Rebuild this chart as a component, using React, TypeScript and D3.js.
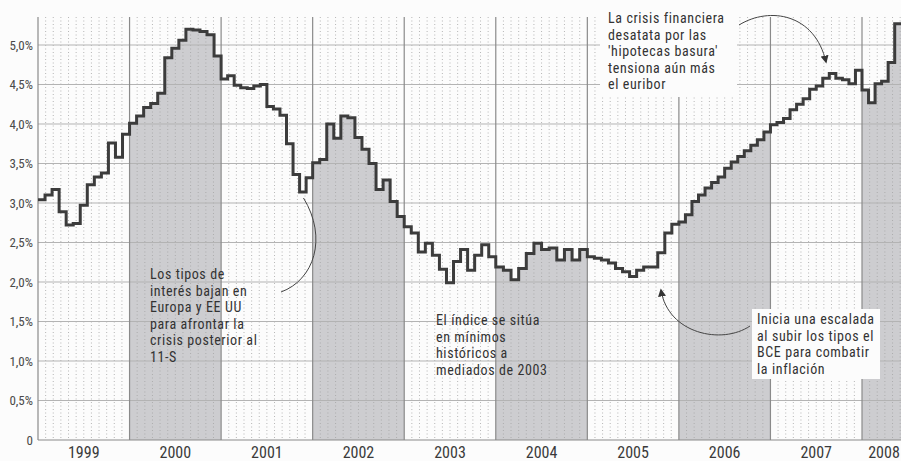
import * as d3 from "d3";
import { useEffect, useRef } from "react";

// 12-month euribor (steps per year as drawn)
const years = [1999, 2000, 2001, 2002, 2003, 2004, 2005, 2006, 2007, 2008];
const rates1999 = [3.04, 3.1, 3.17, 2.89, 2.72, 2.74, 2.97, 3.23, 3.33, 3.38, 3.76, 3.58, 3.87];
const rates2000 = [4.01, 4.1, 4.21, 4.26, 4.39, 4.84, 4.96, 5.06, 5.2, 5.19, 5.17, 5.13, 4.86];
const rates2001 = [4.57, 4.61, 4.49, 4.46, 4.45, 4.48, 4.5, 4.22, 4.19, 4.11, 3.75, 3.36, 3.14, 3.32];
const rates2002 = [3.51, 3.55, 4.0, 3.82, 4.1, 4.08, 3.83, 3.68, 3.5, 3.17, 3.29, 3.02, 2.83];
const rates2003 = [2.7, 2.62, 2.38, 2.49, 2.34, 2.16, 1.99, 2.26, 2.41, 2.15, 2.34, 2.47, 2.32];
const rates2004 = [2.19, 2.15, 2.03, 2.17, 2.36, 2.49, 2.41, 2.43, 2.28, 2.41, 2.28, 2.41];
const rates2005 = [2.32, 2.3, 2.28, 2.24, 2.17, 2.13, 2.07, 2.15, 2.19, 2.19, 2.37, 2.62, 2.73];
const rates2006 = [2.76, 2.85, 3.02, 3.1, 3.19, 3.26, 3.33, 3.44, 3.52, 3.59, 3.66, 3.73, 3.8, 3.9];
const rates2007 = [3.99, 4.02, 4.07, 4.18, 4.25, 4.32, 4.44, 4.48, 4.58, 4.64, 4.58, 4.56, 4.51, 4.68];
const rates2008 = [4.43, 4.27, 4.51, 4.54, 4.78, 5.27];
const ratesByYear = [rates1999, rates2000, rates2001, rates2002, rates2003, rates2004, rates2005, rates2006, rates2007, rates2008];
const steps2008 = 14; // only the start of 2008 is on the page

const yTicks = [0, 0.5, 1, 1.5, 2, 2.5, 3, 3.5, 4, 4.5, 5];
const shadedYears = [2000, 2002, 2004, 2006, 2008];

const notes = [
  { lines: ["Los tipos de", "interés bajan en", "Europa y EE UU", "para afrontar la", "crisis posterior al", "11-S"], x: 150, y: 279, box: null },
  { lines: ["El índice se sitúa", "en mínimos", "históricos a", "mediados de 2003"], x: 436, y: 325, box: null },
  { lines: ["La crisis financiera", "desatata por las", "'hipotecas basura'", "tensiona aún más", "el euribor"], x: 608, y: 23, box: [600, 0, 137, 97] },
  { lines: ["Inicia una escalada", "al subir los tipos el", "BCE para combatir", "la inflación"], x: 757, y: 324, box: [752, 309, 128, 70] },
];

const W = 901;
const H = 461;
const FONT = "'Liberation Sans Narrow', 'Roboto Condensed', 'Arial Narrow', Roboto, sans-serif";

export default function App() {
  const ref = useRef<SVGSVGElement>(null);

  useEffect(() => {
    const svg = d3.select(ref.current);
    svg.selectAll("*").remove();

    const x = d3.scaleLinear().domain([1999, 2008]).range([38, 862]);
    const y = d3.scaleLinear().domain([0, 5]).range([440, 45]);
    const top = 17;

    const points: { t: number; v: number }[] = [];
    years.forEach((yr, i) => {
      const arr = ratesByYear[i];
      const n = yr === 2008 ? steps2008 : arr.length;
      arr.forEach((v, j) => points.push({ t: yr + j / n, v }));
    });
    const last = points[points.length - 1];
    points.push({ t: last.t + 1 / steps2008, v: last.v });

    const defs = svg.append("defs");
    defs
      .append("marker")
      .attr("id", "arrow")
      .attr("viewBox", "0 0 10 10")
      .attr("refX", 8)
      .attr("refY", 5)
      .attr("markerWidth", 8)
      .attr("markerHeight", 8)
      .attr("markerUnits", "userSpaceOnUse")
      .attr("orient", "auto")
      .append("path")
      .attr("d", "M0,0L10,5L0,10z")
      .attr("fill", "#333");

    const clip = defs.append("clipPath").attr("id", "even");
    shadedYears.forEach((yr) =>
      clip
        .append("rect")
        .attr("x", x(yr))
        .attr("y", 0)
        .attr("width", x(yr + 1) - x(yr))
        .attr("height", H)
    );

    svg.append("rect").attr("width", W).attr("height", H).attr("fill", "#fcfcfc");

    // grey band under the curve in even years
    const area = d3
      .area<{ t: number; v: number }>()
      .x((d) => x(d.t))
      .y0(y(0))
      .y1((d) => y(d.v))
      .curve(d3.curveStepAfter);
    svg
      .append("path")
      .datum(points)
      .attr("d", area)
      .attr("fill", "#cdcdd0")
      .attr("clip-path", "url(#even)");

    // monthly dotted grid
    const months = d3.range(0, 9 * 12 + 6).map((m) => 1999 + m / 12).filter((t) => !Number.isInteger(t) && x(t) < W);
    svg
      .append("g")
      .selectAll("line")
      .data(months)
      .join("line")
      .attr("x1", (d) => x(d))
      .attr("x2", (d) => x(d))
      .attr("y1", top)
      .attr("y2", y(0))
      .attr("stroke", "#a5a5a5")
      .attr("stroke-width", 0.8)
      .attr("stroke-dasharray", "1,2.5");

    svg
      .append("g")
      .selectAll("line")
      .data(yTicks.slice(1))
      .join("line")
      .attr("x1", x(1999))
      .attr("x2", W)
      .attr("y1", (d) => y(d))
      .attr("y2", (d) => y(d))
      .attr("stroke", "#b3b3b3")
      .attr("stroke-width", 1);

    svg
      .append("g")
      .selectAll("line")
      .data(years)
      .join("line")
      .attr("x1", (d) => x(d))
      .attr("x2", (d) => x(d))
      .attr("y1", top)
      .attr("y2", y(0))
      .attr("stroke", "#8a8a8a")
      .attr("stroke-width", 1.2);

    svg
      .append("line")
      .attr("x1", x(1999))
      .attr("x2", W)
      .attr("y1", y(0))
      .attr("y2", y(0))
      .attr("stroke", "#8a8a8a");

    // euribor line
    const line = d3
      .line<{ t: number; v: number }>()
      .x((d) => x(d.t))
      .y((d) => y(d.v))
      .curve(d3.curveStepAfter);
    svg
      .append("path")
      .datum(points)
      .attr("d", line)
      .attr("fill", "none")
      .attr("stroke", "#3c3c3c")
      .attr("stroke-width", 3)
      .attr("stroke-linejoin", "miter");

    // y labels
    const fmt = d3.formatLocale({ decimal: ",", thousands: ".", grouping: [3], currency: ["", "€"] }).format(".1f");
    svg
      .append("g")
      .attr("font-family", FONT)
      .attr("font-size", 13)
      .attr("fill", "#4a4a4a")
      .attr("text-anchor", "end")
      .selectAll("text")
      .data(yTicks)
      .join("text")
      .attr("x", 33)
      .attr("y", (d) => y(d))
      .attr("dy", "0.35em")
      .text((d) => (d === 0 ? "0" : fmt(d) + "%"));

    // year labels
    svg
      .append("g")
      .attr("font-family", FONT)
      .attr("font-size", 16)
      .attr("fill", "#3a3a3a")
      .attr("text-anchor", "middle")
      .selectAll("text")
      .data(years)
      .join("text")
      .attr("x", (d) => Math.min(x(d + 0.5), W - 17))
      .attr("y", 458)
      .text((d) => d);

    // annotations
    const g = svg
      .append("g")
      .attr("font-family", FONT)
      .attr("font-size", 14)
      .attr("letter-spacing", 0.6)
      .attr("fill", "#333");
    notes.forEach((n) => {
      if (n.box) {
        g.append("rect")
          .attr("x", n.box[0])
          .attr("y", n.box[1])
          .attr("width", n.box[2])
          .attr("height", n.box[3])
          .attr("fill", "#fcfcfc");
      }
      const t = g.append("text").attr("x", n.x).attr("y", n.y);
      n.lines.forEach((l, i) =>
        t.append("tspan").attr("x", n.x).attr("dy", i === 0 ? 0 : 16.6).text(l)
      );
    });

    const arrows = svg.append("g").attr("fill", "none").attr("stroke", "#444").attr("stroke-width", 1);
    arrows.append("path").attr("d", `M281,292 C314,280 328,238 ${x(2001.9)},198`);
    arrows
      .append("path")
      .attr("d", `M739,25 C770,6 815,14 826,62`)
      .attr("marker-end", "url(#arrow)");
    arrows
      .append("path")
      .attr("d", `M750,326 C722,345 668,334 661,290`)
      .attr("marker-end", "url(#arrow)");
  }, []);

  return (
    <svg
      ref={ref}
      width={W}
      height={H}
      style={{ position: "absolute", left: 0, top: 0, display: "block" }}
    />
  );
}
